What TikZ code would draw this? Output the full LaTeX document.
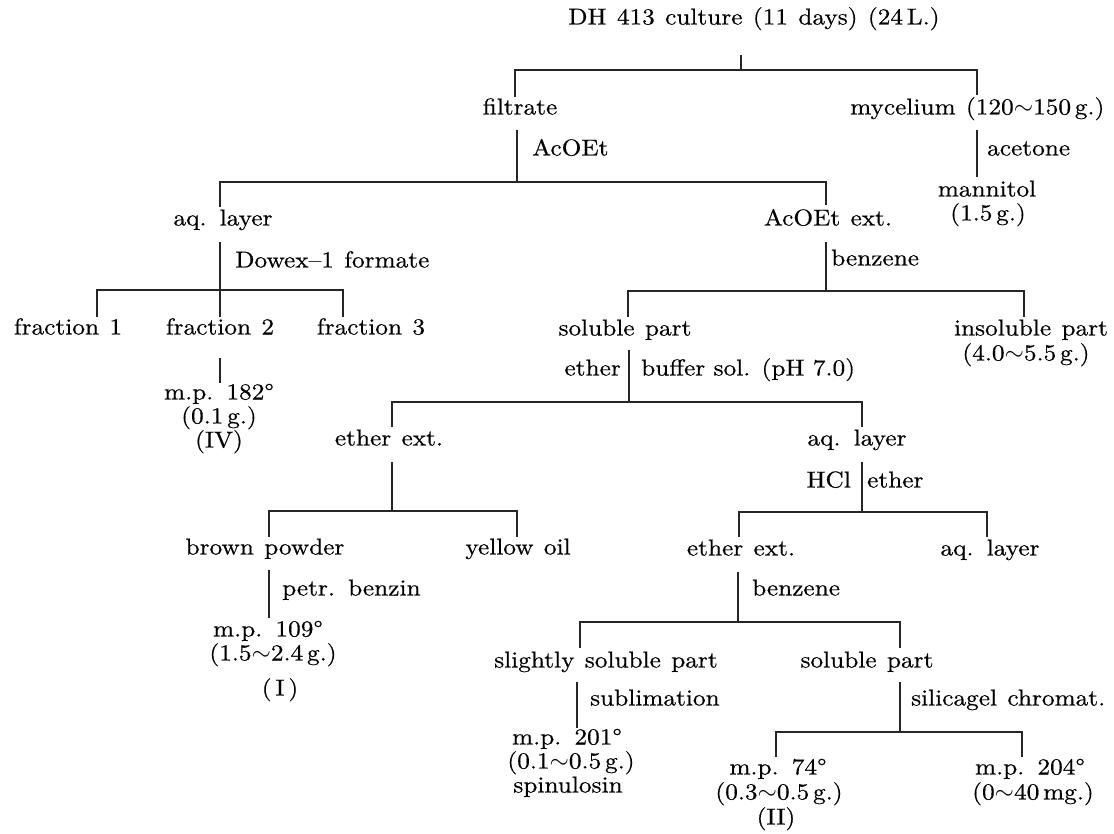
\documentclass[tikz,border=0pt]{standalone}
\usepackage{fontspec}
\setmainfont{lmroman10-regular.otf}[FakeStretch=1.1, FakeBold=0.5]
\usepackage{tikz}

\newcommand\labfont{\fontsize{23}{24}\selectfont\spaceskip 0.45em\relax}
\newcommand\plainfont{\fontsize{23}{24}\selectfont}

\tikzset{
  txt/.style={inner sep=0pt, text height=0.72em, text depth=0.22em, font={\labfont}},
  cond/.style={txt, anchor=west},
  tline/.style={line width=1.1pt, black!85}
}

\begin{document}
\begin{tikzpicture}[x=1pt,y=-1pt]
\useasboundingbox (0,0) rectangle (1114,834);

% Cultura inicial
\node[txt, anchor=west] (dh) at (568,22) {DH 413 culture (11 days) (24\,L.)};
\node[txt] (filtrate) at (520,112) {filtrate};
\node[txt, anchor=west] (mycelium) at (850,112) {mycelium (120$\sim$150\,g.)};
\coordinate (c1) at (741,70);
\draw[tline] (c1) -- ++(0,-15);
\draw[tline] (c1) -| (515,97) (c1) -| (977,95);

% Micelio -> acetona
\coordinate (c3) at (977,177);
\draw[tline] (c3) -- ++(0,-47);
\node[cond] (acetone) at (987,153) {acetone};
\node[txt] (mannitol) at (987,194) {mannitol};
\node[txt] (mannitolg) at (988,218) {(1.5\,g.)};

% Filtrado -> AcOEt
\coordinate (c2) at (517,182);
\draw[tline] (c2) -- ++(0,-52);
\draw[tline] (c2) -| (220,207) (c2) -| (826,205);
\node[cond] (acoet) at (532,153) {AcOEt};
\node[txt] (aq1) at (223,223) {aq. layer};
\node[txt] (acext) at (828,223) {AcOEt ext.};

% Camada aquosa -> Dowex
\coordinate (c4) at (220,290);
\draw[tline] (c4) -- ++(0,-48);
\draw[tline] (c4) -| (97,317) (c4) -- (220,317) (c4) -| (343,317);
\node[cond] (dowex) at (235,265) {Dowex--1 formate};
\node[txt] (fr1) at (68,332) {fraction 1};
\node[txt] (fr2) at (220,332) {fraction 2};
\node[txt] (fr3) at (371,332) {fraction 3};
\coordinate (c5) at (220,383);
\draw[tline] (c5) -- ++(0,-25);
\node[txt] (mp182) at (219,397) {m.p. 182°};
\node[txt] (mp182g) at (219,421) {(0.1\,g.)};
\node[txt] (mp182r) at (219,445) {(IV)};

% Extrato AcOEt -> benzeno
\coordinate (c6) at (826,291);
\draw[tline] (c6) -- ++(0,-49);
\draw[tline] (c6) -| (628,317) (c6) -| (1024,317);
\node[cond] (benz1) at (831,263) {benzene};
\node[txt] (sol1) at (625,333) {soluble part};
\node[txt] (insol) at (1031,333) {insoluble part};
\node[txt] (insolg) at (1026,358) {(4.0$\sim$5.5\,g.)};

% Parte soluvel -> eter / tampao
\coordinate (c7) at (629,402);
\draw[tline] (c7) -- ++(0,-52);
\draw[tline] (c7) -| (392,427) (c7) -| (862,427);
\node[txt, anchor=east] (ether1) at (621,373) {ether};
\node[cond, font={\plainfont}] (buffer) at (641,373) {buffer sol. (pH 7.0)};
\node[txt] (etext1) at (389,443) {ether ext.};
\node[txt] (aq2) at (857,443) {aq. layer};

% Extrato eter (esquerda)
\coordinate (c8) at (392,511);
\draw[tline] (c8) -- ++(0,-49);
\draw[tline] (c8) -| (269,537) (c8) -| (517,537);
\node[txt] (brown) at (265,552) {brown powder};
\node[txt] (yellow) at (518,552) {yellow oil};
\coordinate (c9) at (269,618);
\draw[tline] (c9) -- ++(0,-48);
\node[cond] (petr) at (282,593) {petr. benzin};
\node[txt] (mp109) at (268,634) {m.p. 109°};
\node[txt] (mp109g) at (273,658) {(1.5$\sim$2.4\,g.)};
\node[txt] (r1) at (280,693) {(\,I\,)};

% Camada aquosa -> HCl / eter
\coordinate (c10) at (862,512);
\draw[tline] (c10) -- ++(0,-50);
\draw[tline] (c10) -| (739,537) (c10) -| (987,537);
\node[txt, anchor=east] (hcl) at (851,485) {HCl};
\node[cond] (ether2) at (867,485) {ether};
\node[txt] (etext2) at (741,553) {ether ext.};
\node[txt] (aq3) at (990,553) {aq. layer};

% Extrato eter (direita) -> benzeno
\coordinate (c11) at (738,622);
\draw[tline] (c11) -- ++(0,-50);
\draw[tline] (c11) -| (580,648) (c11) -| (900,648);
\node[cond] (benz2) at (752,593) {benzene};
\node[txt] (slight) at (606,665) {slightly soluble part};
\node[txt] (sol2) at (867,665) {soluble part};

% Sublimacao
\coordinate (c12) at (577,728);
\draw[tline] (c12) -- ++(0,-46);
\node[cond] (subl) at (590,703) {sublimation};
\node[txt] (mp201) at (567,742) {m.p. 201°};
\node[txt] (mp201g) at (571,766) {(0.1$\sim$0.5\,g.)};
\node[txt] (spinu) at (568,790) {spinulosin};

% Cromatografia em silicagel
\coordinate (c13) at (900,732);
\draw[tline] (c13) -- ++(0,-50);
\draw[tline] (c13) -| (776,757) (c13) -| (1022,757);
\node[cond] (silica) at (911,703) {silicagel chromat.};
\node[txt] (mp74) at (778,772) {m.p. 74°};
\node[txt] (mp74g) at (779,797) {(0.3$\sim$0.5\,g.)};
\node[txt] (mp74r) at (776,822) {(II)};
\node[txt] (mp204) at (1030,772) {m.p. 204°};
\node[txt] (mp204g) at (1033,797) {(0$\sim$40\,mg.)};

\end{tikzpicture}
\end{document}
